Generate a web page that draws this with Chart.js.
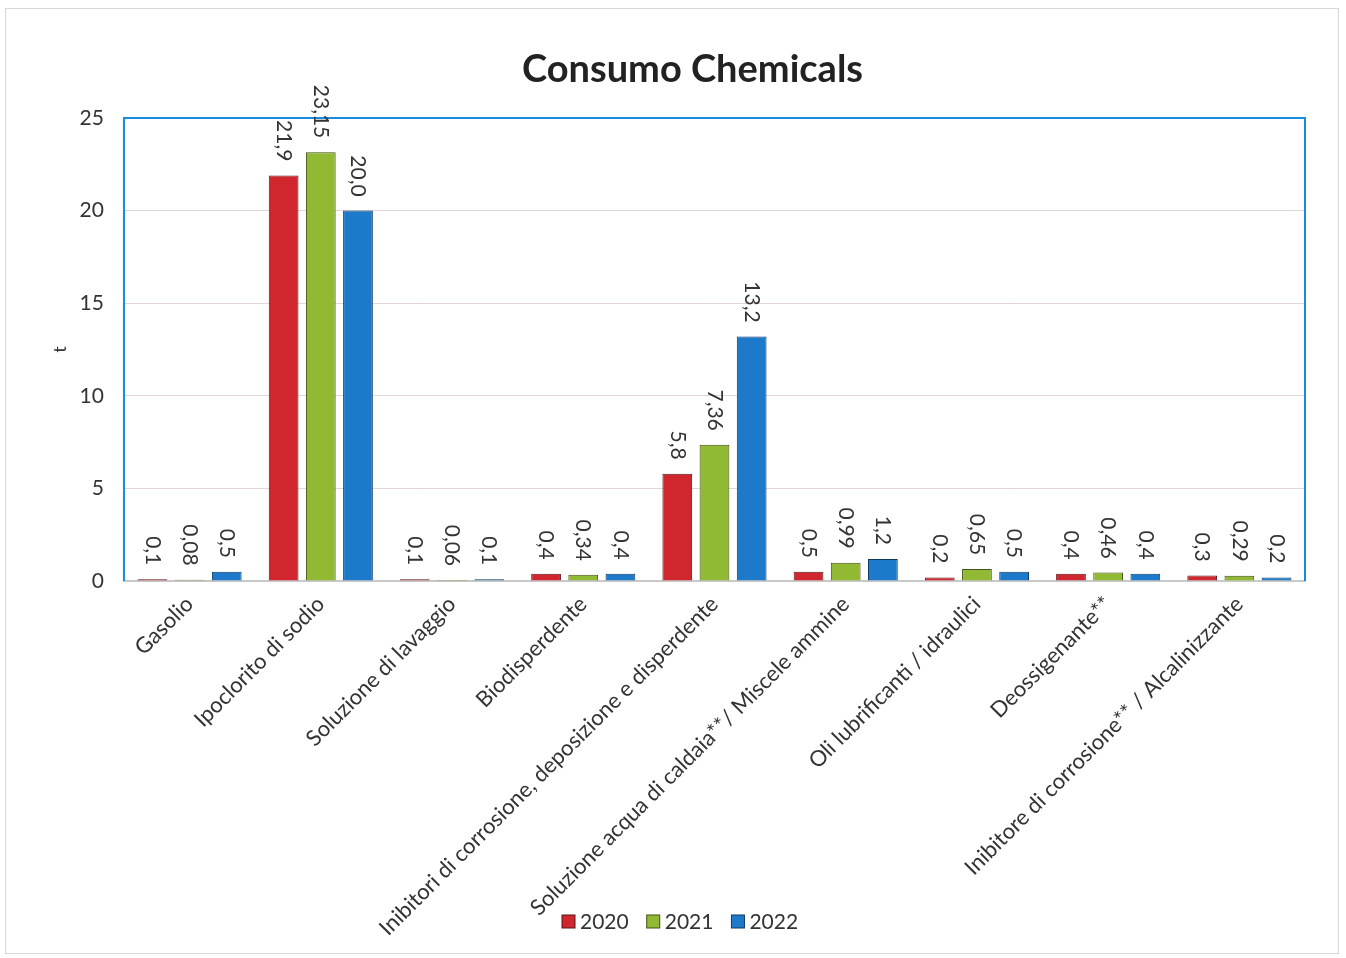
<!DOCTYPE html>
<html>
<head>
<meta charset="utf-8">
<script src="https://cdn.jsdelivr.net/npm/chart.js@4.4.0/dist/chart.umd.min.js"></script>
<style>
  html, body { margin: 0; padding: 0; background: #fff; }
  #wrap { position: absolute; left: 5px; top: 8px; width: 1334px; height: 946px; border: 1px solid #d6d6d6; box-sizing: border-box; }
  canvas { display: block; }
</style>
</head>
<body>
<div id="wrap"><canvas id="MyChart"></canvas></div>
<script>
// categories
const categories = [
  'Gasolio',
  'Ipoclorito di sodio',
  'Soluzione di lavaggio',
  'Biodisperdente',
  'Inibitori di corrosione, deposizione e disperdente',
  'Soluzione acqua di caldaia**/ Miscele ammine',
  'Oli lubrificanti / idraulici',
  'Deossigenante**',
  'Inibitore di corrosione** / Alcalinizzante'
];

// series values (t)
const values2020 = [0.1, 21.9, 0.1, 0.4, 5.8, 0.5, 0.2, 0.4, 0.3];
const values2021 = [0.08, 23.15, 0.06, 0.34, 7.36, 0.99, 0.65, 0.46, 0.29];
const values2022 = [0.5, 20.0, 0.1, 0.4, 13.2, 1.2, 0.5, 0.4, 0.2];

// data labels as printed on the chart
const text2020 = ['0,1', '21,9', '0,1', '0,4', '5,8', '0,5', '0,2', '0,4', '0,3'];
const text2021 = ['0,08', '23,15', '0,06', '0,34', '7,36', '0,99', '0,65', '0,46', '0,29'];
const text2022 = ['0,5', '20,0', '0,1', '0,4', '13,2', '1,2', '0,5', '0,4', '0,2'];

const yTicks = [0, 5, 10, 15, 20, 25];

const chartTitle = 'Consumo Chemicals';
const textColor = '#333333';
const fontFamily = 'Lato, "Open Sans", sans-serif';

// vertical value labels above bars
const barLabels = {
  id: 'barLabels',
  afterDatasetsDraw(chart) {
    const ctx = chart.ctx;
    ctx.save();
    ctx.font = '21px ' + fontFamily;
    ctx.fillStyle = textColor;
    ctx.textAlign = 'right';
    ctx.textBaseline = 'middle';
    chart.data.datasets.forEach((ds, i) => {
      const meta = chart.getDatasetMeta(i);
      meta.data.forEach((bar, j) => {
        ctx.save();
        ctx.translate(bar.x, bar.y - 14);
        ctx.rotate(Math.PI / 2);
        ctx.fillText(ds.valueText[j], 0, 0);
        ctx.restore();
      });
    });
    ctx.restore();
  }
};

// blue frame around plot area (left, top, right)
const plotFrame = {
  id: 'plotFrame',
  beforeDatasetsDraw(chart) {
    const { ctx, chartArea: a } = chart;
    ctx.save();
    ctx.strokeStyle = '#1a8ae0';
    ctx.lineWidth = 2;
    ctx.beginPath();
    ctx.moveTo(a.left, a.bottom);
    ctx.lineTo(a.left, a.top);
    ctx.lineTo(a.right, a.top);
    ctx.lineTo(a.right, a.bottom);
    ctx.stroke();
    ctx.restore();
  }
};

// title, placed like the original (a bit left of the plot centre)
const topTitle = {
  id: 'topTitle',
  afterDraw(chart, args, opts) {
    const ctx = chart.ctx;
    const a = chart.chartArea;
    ctx.save();
    ctx.font = 'bold 38px ' + fontFamily;
    ctx.fillStyle = '#222';
    ctx.textAlign = 'center';
    ctx.textBaseline = 'middle';
    ctx.fillText(opts.text, (a.left + a.right) / 2 + opts.dx, opts.y);
    ctx.restore();
  }
};

// legend drawn over the bottom labels, like the original
const floatLegend = {
  id: 'floatLegend',
  afterDraw(chart, args, opts) {
    const ctx = chart.ctx;
    ctx.save();
    ctx.font = '21px ' + fontFamily;
    ctx.textBaseline = 'middle';
    ctx.textAlign = 'left';
    let x = opts.x;
    chart.data.datasets.forEach((ds) => {
      ctx.fillStyle = ds.backgroundColor;
      ctx.strokeStyle = ds.borderColor;
      ctx.lineWidth = 1;
      ctx.fillRect(x, opts.y - 6, 13, 13);
      ctx.strokeRect(x, opts.y - 6, 13, 13);
      ctx.fillStyle = textColor;
      ctx.fillText(ds.label, x + 18, opts.y + 1);
      x += 18 + ctx.measureText(ds.label).width + 18;
    });
    ctx.restore();
  }
};

new Chart('MyChart', {
  type: 'bar',
  data: {
    labels: categories,
    datasets: [
      {
        label: '2020',
        data: values2020,
        valueText: text2020,
        backgroundColor: '#cf272d',
        borderColor: '#5a1416',
        borderWidth: 1
      },
      {
        label: '2021',
        data: values2021,
        valueText: text2021,
        backgroundColor: '#92b933',
        borderColor: '#3f5116',
        borderWidth: 1
      },
      {
        label: '2022',
        data: values2022,
        valueText: text2022,
        backgroundColor: '#1d7acb',
        borderColor: '#0e3a60',
        borderWidth: 1
      }
    ]
  },
  plugins: [barLabels, plotFrame, topTitle, floatLegend],
  options: {
    responsive: true,
    maintainAspectRatio: false,
    animation: false,
    categoryPercentage: 0.85,
    barPercentage: 0.8,
    layout: {
      padding: { left: 0, right: 33, top: 109, bottom: 10 }
    },
    plugins: {
      legend: { display: false },
      tooltip: { enabled: false },
      title: { display: false },
      topTitle: { text: chartTitle, dx: -22, y: 61 },
      floatLegend: { x: 556, y: 912 }
    },
    scales: {
      y: {
        min: 0,
        max: 25,
        afterBuildTicks: (axis) => {
          axis.ticks = yTicks.map((v) => ({ value: v }));
        },
        title: {
          display: true,
          text: 't',
          color: textColor,
          font: { family: fontFamily, size: 18 },
          padding: { top: 43, bottom: -11 }
        },
        ticks: {
          color: textColor,
          padding: 20,
          font: { family: fontFamily, size: 21 }
        },
        grid: {
          color: 'rgba(215, 195, 200, 0.7)',
          drawTicks: false
        },
        border: { display: false }
      },
      x: {
        ticks: {
          color: textColor,
          minRotation: 45,
          maxRotation: 45,
          autoSkip: false,
          padding: 2,
          font: { family: fontFamily, size: 22 }
        },
        grid: { display: false },
        border: { color: '#c8c8c8', width: 2 }
      }
    }
  }
});
</script>
</body>
</html>
